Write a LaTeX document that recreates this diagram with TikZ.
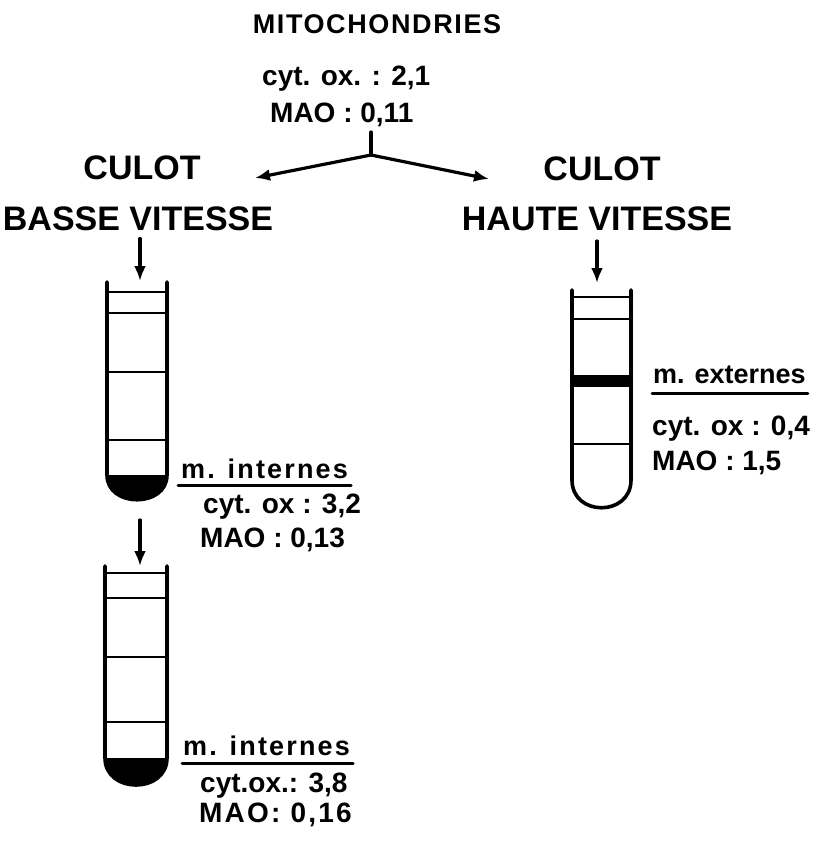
\documentclass[tikz,border=0pt]{standalone}
\usepackage{fontspec}
\setmainfont{Liberation Sans}
\newfontfamily\wideface{Liberation Sans}[LetterSpace=6]
\newfontfamily\labface{Liberation Sans}[LetterSpace=8]
\usetikzlibrary{arrows.meta,positioning}

\begin{document}
\begin{tikzpicture}[x=1pt,y=-1pt,>={Latex[length=15pt,width=12pt]},line join=round,line cap=round,
  txt/.style={inner sep=0pt,anchor=base west,font=\bfseries\fontsize{28}{32}\selectfont},
  head/.style={inner sep=0pt,anchor=base,font=\bfseries\fontsize{34}{40}\selectfont},
  title/.style={inner sep=0pt,anchor=base,font=\wideface\bfseries\fontsize{27}{32}\selectfont},
  lab/.style={inner sep=0pt,anchor=base west,font=\labface\bfseries\fontsize{27}{32}\selectfont},
  conn/.style={line width=3.2pt},
  tube/.style={line width=3.6pt},
  band/.style={line width=2.8pt},
  uline/.style={line width=3pt}]
  \useasboundingbox (0,0) rectangle (823,841);

  % top of the scheme
  \node[title] (mito) at (377,33) {MITOCHONDRIES};
  \node[txt] (cytM) at (262,85) {cyt. ox. : 2,1};
  \node[txt] (maoM) at (270,122) {MAO : 0,11};
  \coordinate (stem) at (371,132);
  \coordinate (split) at (371,155);
  \coordinate (toL) at (255,178);
  \coordinate (toR) at (489,179);
  \draw[conn] (stem) -- (split);
  \draw[conn,->] (split) -- (toL);
  \draw[conn,->] (split) -- (toR);

  \node[head] (culotL) at (142,179) {CULOT};
  \node[head] (basse) at (138,230) {BASSE VITESSE};
  \node[head] (culotR) at (602,180) {CULOT};
  \node[head] (haute) at (597,230) {HAUTE VITESSE};

  \coordinate (tubeA) at (140,281);
  \coordinate (outA) at (140,520);
  \coordinate (tubeB) at (140,566);
  \coordinate (inC) at (597,241);
  \coordinate (tubeC) at (597,283);
  \draw[conn,->] (basse.south -| tubeA) ++(0,8) -- (tubeA);
  \draw[conn,->] (outA) -- (tubeB);
  \draw[conn,->] (inC) -- (tubeC);

  % tube basse vitesse
  \fill (107,475) .. controls (107,508) and (167,508) .. (167,475) -- cycle;
  \draw[tube] (107,282) -- (107,475) .. controls (107,508) and (167,508) .. (167,475) -- (167,282);
  \foreach \y in {292,313,372,440}
    \draw[band] (107,\y) -- (167,\y);

  % second gradient
  \fill (105,758) .. controls (105,794) and (167,794) .. (167,758) -- cycle;
  \draw[tube] (105,566) -- (105,758) .. controls (105,794) and (167,794) .. (167,758) -- (167,566);
  \foreach \y in {573,598,657,722}
    \draw[band] (105,\y) -- (167,\y);

  % tube haute vitesse
  \draw[tube] (572,290) -- (572,480) .. controls (572,517) and (631,517) .. (631,480) -- (631,290);
  \foreach \y in {297,319,444}
    \draw[band] (572,\y) -- (631,\y);
  \fill (572,375) rectangle (631,387);

  % labels
  \node[lab] (intA) at (181,478) {m. internes};
  \draw[uline] ([xshift=-3pt,yshift=-7pt]intA.base west) -- ([xshift=3pt,yshift=-7pt]intA.base east);
  \node[txt] (cytA) at (203,513) {cyt. ox : 3,2};
  \node[txt] (maoA) at (200,547) {MAO :  0,13};

  \node[lab] (intB) at (183,755) {m. internes};
  \draw[uline] ([xshift=-1pt,yshift=-8pt]intB.base west) -- ([xshift=3pt,yshift=-8pt]intB.base east);
  \node[txt] (cytB) at (200,792) {cyt.ox.: 3,8};
  \node[lab,font=\labface\bfseries\fontsize{28}{32}\selectfont] (maoB) at (199,822) {MAO: 0,16};

  \node[txt,font=\bfseries\fontsize{27}{32}\selectfont] (ext) at (653,383) {m. externes};
  \draw[uline] ([xshift=-1pt,yshift=-10pt]ext.base west) -- ([xshift=2pt,yshift=-10pt]ext.base east);
  \node[txt] (cytC) at (652,435) {cyt. ox : 0,4};
  \node[txt] (maoC) at (652,470) {MAO : 1,5};
\end{tikzpicture}
\end{document}
